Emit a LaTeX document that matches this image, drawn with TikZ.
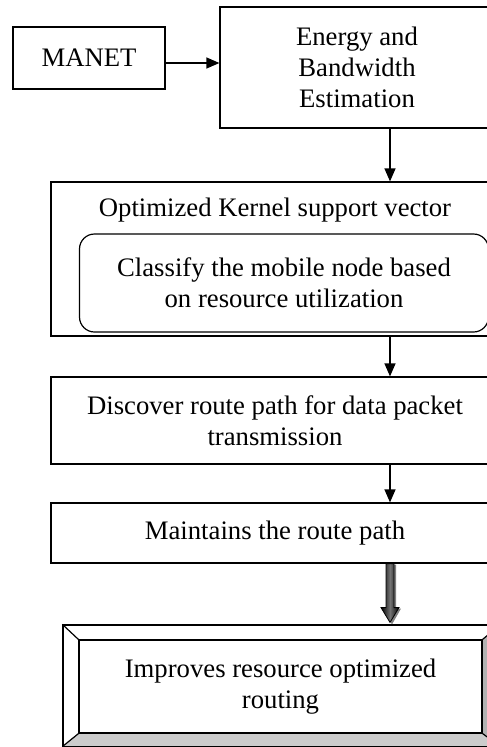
\documentclass[tikz,border=0pt]{standalone}
\usepackage{fontspec}
\setmainfont{Liberation Serif}
\usetikzlibrary{arrows.meta,calc}
\begin{document}
\begin{tikzpicture}[x=1pt,y=-1pt, line width=1.2pt,
  box/.style={draw, rectangle, align=center, inner sep=0pt, font=\fontsize{26.7}{31}\selectfont},
  txt/.style={align=center, inner sep=0pt, font=\fontsize{26.7}{31}\selectfont},
  arr/.style={-{Triangle[length=13pt,width=11pt]}}]
\useasboundingbox (0,0) rectangle (487,747);
\clip (0,0) rectangle (487,747);
% nodes
\node[box, minimum width=152, minimum height=62] (manet) at (89,58) {MANET};
\node[box, minimum width=274, minimum height=121] (energy) at (357,67.5) {Energy and\\Bandwidth\\Estimation};
\node[box, minimum width=448, minimum height=154] (opt) at (275,259) {};
\node[txt] (optlabel) at (275,210) {Optimized Kernel support vector};
\node[box, rounded corners=15pt, minimum width=409, minimum height=98] (cls) at (284,283) {Classify the mobile node based\\on resource utilization};
\node[box, minimum width=448, minimum height=87] (disc) at (275,420.5) {Discover route path for data packet\\transmission};
\node[box, minimum width=448, minimum height=60] (maint) at (275,533) {Maintains the route path};
% bevel box
\node[draw, rectangle, inner sep=0pt, minimum width=437, minimum height=121] (fin) at (281.5,685.5) {};
\fill[gray!40] (fin.south west) -- (fin.south east) -- (482,733) -- (79,733) -- cycle;
\fill[gray!60] (fin.north east) -- (fin.south east) -- (482,733) -- (482,640) -- cycle;
\node[box, minimum width=403, minimum height=93] (finin) at (280.5,686.5) {Improves resource optimized\\routing};
\draw (fin.north west) -- (finin.north west);
\draw (fin.south west) -- (finin.south west);
\draw (fin.north east) -- (finin.north east);
\draw (fin.south east) -- (finin.south east);
\draw (fin.north west) rectangle (fin.south east);
% connectors
\coordinate (ax) at (390,0);
\coordinate (ay) at (0,63);
\draw[arr] (manet.east |- ay) -- (energy.west |- ay);
\draw[arr] (energy.south -| ax) -- (opt.north -| ax);
\draw[arr] (opt.south -| ax) -- (disc.north -| ax);
\draw[arr] (disc.south -| ax) -- (maint.north -| ax);
% thick block arrow
\coordinate (ta) at (maint.south -| ax);
\coordinate (tb) at ($(fin.north -| ax)+(0,-2)$);
\fill[gray] ($(ta)+(-2,1)$) -- ($(ta)+(-2,45)$) -- ($(ta)+(-7,45)$) -- ($(tb)+(2,2)$) -- ($(ta)+(11,45)$) -- ($(ta)+(6,45)$) -- ($(ta)+(6,1)$) -- cycle;
\draw[line width=0.8pt, left color=black, right color=black, middle color=black!55]
  ($(ta)+(-4,0)$) -- ($(ta)+(-4,44)$) -- ($(ta)+(-9,44)$) -- (tb) -- ($(ta)+(9,44)$) -- ($(ta)+(4,44)$) -- ($(ta)+(4,0)$) -- cycle;
\end{tikzpicture}
\end{document}
